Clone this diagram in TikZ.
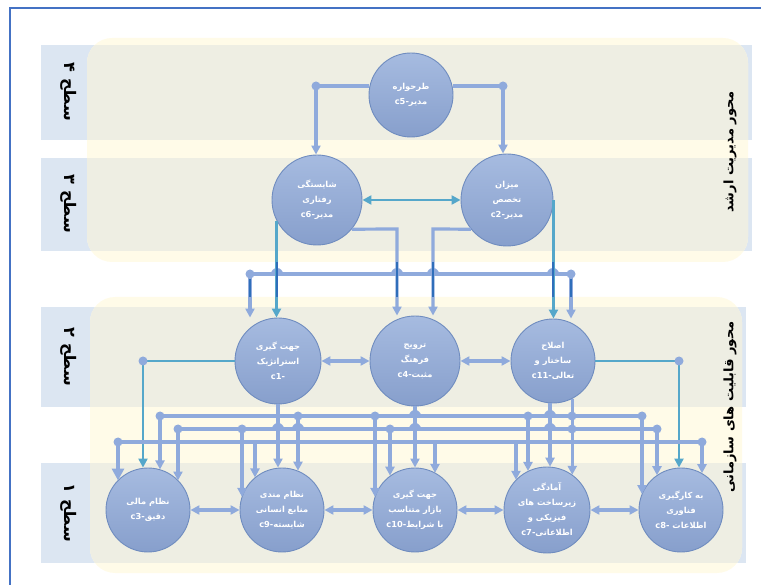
\documentclass[tikz,border=0pt]{standalone}
\usepackage{fontspec}
\usetikzlibrary{arrows.meta}
\newfontfamily\arabicfont[Script=Arabic]{DejaVu Sans}
\TeXXeTstate=1
\newcommand{\fa}[1]{\beginR #1\endR}
\newcommand{\lt}[1]{\beginL #1\endL}
\definecolor{lineblue}{HTML}{8FAADC}
\definecolor{tealline}{HTML}{55A7CA}
\definecolor{darkseg}{HTML}{2F6EBA}
\definecolor{circtop}{HTML}{A6BBE0}
\definecolor{circbot}{HTML}{879FCC}
\definecolor{circedge}{HTML}{6F8CBF}
\definecolor{bandgray}{HTML}{EEEEE3}
\definecolor{panelyel}{HTML}{FFFBE8}
\definecolor{labblue}{HTML}{DCE6F2}
\definecolor{frameblue}{HTML}{4472C4}
\newcommand{\dome}[1]{\fill[lineblue] (#1) ++(-6,0) arc[start angle=180,end angle=360,radius=6];}
\newcommand{\jdot}[1]{\fill[lineblue] (#1) circle (4.5);}

\begin{document}
\begin{tikzpicture}[x=1pt, y=-1pt,
    crc/.style={circle, draw=circedge, line width=0.9pt, top color=circtop, bottom color=circbot,
        minimum size=#1, inner sep=0pt, align=center, text=white,
        font=\arabicfont\bfseries\fontsize{8.3}{15}\selectfont},
    lab/.style={rotate=-90, font=\arabicfont\bfseries\fontsize{16}{18}\selectfont},
    axl/.style={rotate=90, font=\arabicfont\bfseries\fontsize{13}{15}\selectfont},
    ln/.style={draw=lineblue, line width=3.2pt},
    tl/.style={draw=tealline, line width=2.6pt},
    >={Triangle[length=9pt,width=9pt]}]
    \useasboundingbox (0,0) rectangle (761,585);

    % frame
    \draw[frameblue, line width=2.2pt] (10,600) -- (10,8) -- (780,8);

    % bands and panels
    \fill[labblue] (41,45) rectangle (752,140);
    \fill[labblue] (41,158) rectangle (752,251);
    \fill[labblue] (41,307) rectangle (746,407);
    \fill[labblue] (41,463) rectangle (746,563);
    \fill[panelyel, rounded corners=25pt] (87,38) rectangle (748,262);
    \fill[panelyel, rounded corners=25pt] (90,297) rectangle (742,573);
    \begin{scope}
        \clip[rounded corners=25pt] (87,38) rectangle (748,262) (90,297) rectangle (742,573);
        \fill[bandgray] (41,45) rectangle (752,140);
        \fill[bandgray] (41,158) rectangle (752,251);
        \fill[bandgray] (41,307) rectangle (746,407);
        \fill[bandgray] (41,463) rectangle (746,563);
    \end{scope}

    % level labels
    \node[lab] (lev4) at (69,92) {\fa{سطح ۴}};
    \node[lab] (lev3) at (69,204) {\fa{سطح ۳}};
    \node[lab] (lev2) at (69,357) {\fa{سطح ۲}};
    \node[lab] (lev1) at (69,513) {\fa{سطح ۱}};
    \node[axl] (ax1) at (730,152) {\fa{محور مدیریت ارشد}};
    \node[axl] (ax2) at (730,407) {\fa{محور قابلیت های سازمانی}};

    % level 4 and 3
    \node[crc=84pt] (c5) at (411,95) {\fa{طرحواره}\\\fa{مدیر-\lt{c5}}};
    \node[crc=90pt] (c6) at (317,200) {\fa{شایستگی}\\\fa{رفتاری}\\\fa{مدیر-\lt{c6}}};
    \node[crc=92pt] (c2) at (507,200) {\fa{میزان}\\\fa{تخصص}\\\fa{مدیر-\lt{c2}}};
    % level 2
    \node[crc=86pt] (c1) at (278,361) {\fa{جهت گیری}\\\fa{استراتژیک}\\\lt{c1-}};
    \node[crc=90pt] (c4) at (415,361) {\fa{ترویج}\\\fa{فرهنگ}\\\fa{مثبت-\lt{c4}}};
    \node[crc=84pt] (c11) at (553,361) {\fa{اصلاح}\\\fa{ساختار و}\\\fa{تعالی-\lt{c11}}};
    % level 1
    \node[crc=84pt] (c3) at (148,510) {\fa{نظام مالی}\\\fa{دقیق-\lt{c3}}};
    \node[crc=84pt] (c9) at (282,510) {\fa{نظام مندی}\\\fa{منابع انسانی}\\\fa{شایسته-\lt{c9}}};
    \node[crc=84pt] (c10) at (415,510) {\fa{جهت گیری}\\\fa{بازار متناسب}\\\fa{با شرایط-\lt{c10}}};
    \node[crc=86pt] (c7) at (547,510) {\fa{آمادگی}\\\fa{زیرساخت های}\\\fa{فیزیکی و}\\\fa{اطلاعاتی-\lt{c7}}};
    \node[crc=84pt] (c8) at (681,510) {\fa{به کارگیری}\\\fa{فناوری}\\\fa{اطلاعات \lt{c8-}}};

    % level 4 to level 3
    \coordinate (k5a) at (316,86);
    \coordinate (k5b) at (503,86);
    \draw[ln,->] (c5.west |- k5a) -- (k5a) -- (k5a |- c6.north);
    \draw[ln,->] (c5.east |- k5b) -- (k5b) -- (k5b |- c2.north);
    \jdot{k5a} \jdot{k5b}
    \draw[tl,<->] (c6) -- (c2);

    % level 3 to level 2
    \coordinate (b1) at (250,274);
    \coordinate (b2) at (571,274);
    \coordinate (k64) at (397,229);
    \coordinate (k24) at (433,229);
    \draw[ln] (b1) -- (b2);
    \dome{277,274} \dome{397,274} \dome{433,274} \dome{553,274}
    \draw[ln,->] (b1) -- (b1 |- c1.north);
    \draw[ln,->] (b2) -- (b2 |- c11.north);
    \jdot{b1} \jdot{b2}
    \draw[tl,->] (c6.207) -- (c6.207 |- c1.north);
    \draw[ln,->] (c6.-40) -- (k64) -- (k64 |- c4.north);
    \draw[ln,->] (c2.219) -- (k24) -- (k24 |- c4.north);
    \draw[tl,->] (c2.east) -- (c2.east |- c11.north);
    \draw[darkseg, line width=2.2pt] (250,279) -- (250,297) (571,279) -- (571,297)
        (277,262) -- (277,297) (397,262) -- (397,297) (433,262) -- (433,297) (553,262) -- (553,297);

    % level 2
    \draw[ln,<->] (c1) -- (c4);
    \draw[ln,<->] (c4) -- (c11);
    \coordinate (k13) at (143,361);
    \coordinate (k118) at (679,361);
    \draw[tl,->] (c1.west) -- (k13) -- (k13 |- c3.north);
    \draw[tl,->] (c11.east) -- (k118) -- (k118 |- c8.north);
    \jdot{k13} \jdot{k118}

    % buses between level 2 and level 1
    \coordinate (bA1) at (160,416);
    \coordinate (bA2) at (642,416);
    \coordinate (bB1) at (178,429);
    \coordinate (bB2) at (657,429);
    \coordinate (bC1) at (118,442);
    \coordinate (bC2) at (702,442);
    \draw[ln] (bA1) -- (bA2);
    \draw[ln] (bB1) -- (bB2);
    \draw[ln] (bC1) -- (bC2);
    \dome{415,416} \dome{550,416}
    \dome{278,429} \dome{298,429} \dome{415,429} \dome{550,429}

    % bus A
    \coordinate (dA2) at (298,416);
    \coordinate (dA3) at (375,416);
    \coordinate (dA4) at (528,416);
    \draw[ln,->] (bA1) -- (bA1 |- c3.73);
    \draw[ln,->] (dA2) -- (dA2 |- c9.68);
    \draw[ln,->] (dA3) -- (dA3 |- c10.162);
    \draw[ln,->] (dA4) -- (dA4 |- c7.116);
    \draw[ln,->] (bA2) -- (bA2 |- c8.158);
    \jdot{bA1} \jdot{dA2} \jdot{dA3} \jdot{dA4} \jdot{bA2}
    % bus B
    \coordinate (dB2) at (242,429);
    \coordinate (dB3) at (390,429);
    \draw[ln,->] (bB1) -- (bB1 |- c3.44);
    \draw[ln,->] (dB2) -- (dB2 |- c9.162);
    \draw[ln,->] (dB3) -- (dB3 |- c10.126);
    \draw[ln,->] (bB2) -- (bB2 |- c8.125);
    \jdot{bB1} \jdot{dB2} \jdot{dB3} \jdot{bB2}
    % bus C
    \coordinate (dC2) at (255,442);
    \coordinate (dC3) at (435,442);
    \coordinate (dC4) at (516,442);
    \draw[ln, line width=4.5pt, -{Triangle[length=12pt,width=12pt]}] (bC1) -- (bC1 |- c3.136);
    \draw[ln,->] (dC2) -- (dC2 |- c9.130);
    \draw[ln,->] (dC3) -- (dC3 |- c10.61);
    \draw[ln,->] (dC4) -- (dC4 |- c7.136);
    \draw[ln,->] (bC2) -- (bC2 |- c8.60);
    \jdot{bC1} \jdot{bC2}

    % level 2 to level 1
    \draw[ln,->] (c1.south) -- (c1.south |- c9.north);
    \draw[ln,->] (c4.south) -- (c10.north);
    \draw[ln,->] (c11.266) -- (c11.266 |- c7.86);
    \draw[ln,->] (c11.297) -- (c11.297 |- c7.54);
    \jdot{572,416} \jdot{572,429}

    % level 1
    \draw[ln,<->] (c3) -- (c9);
    \draw[ln,<->] (c9) -- (c10);
    \draw[ln,<->] (c10) -- (c7);
    \draw[ln,<->] (c7) -- (c8);
\end{tikzpicture}
\end{document}
